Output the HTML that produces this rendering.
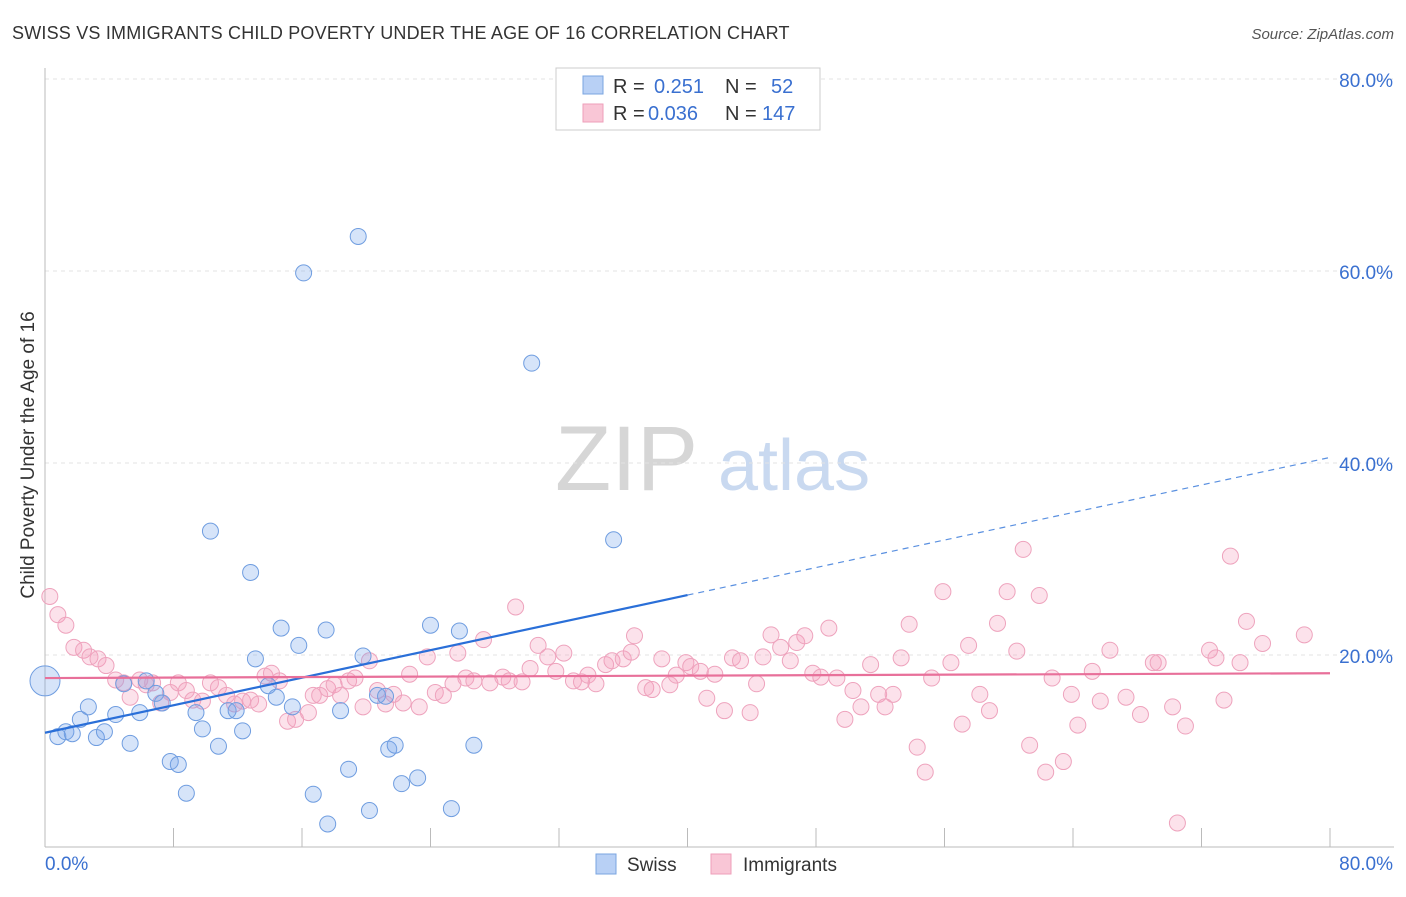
<!DOCTYPE html>
<html><head><meta charset="utf-8"><style>
body{margin:0;background:#fff;font-family:"Liberation Sans",sans-serif;}
svg text{font-family:"Liberation Sans",sans-serif;}
</style></head><body>
<svg id="chart" width="1406" height="892">
<text x="12" y="39" font-size="18" fill="#333" letter-spacing="0.2">SWISS VS IMMIGRANTS CHILD POVERTY UNDER THE AGE OF 16 CORRELATION CHART</text>
<text x="1394" y="39" font-size="15" fill="#555" font-style="italic" text-anchor="end">Source: ZipAtlas.com</text>
<text x="555" y="490" font-size="92" fill="#d6d6d6" font-family="Liberation Serif">ZIP</text>
<text x="718" y="490" font-size="72" fill="#c9d9f0">atlas</text>
<text transform="translate(34,455) rotate(-90)" font-size="19" fill="#333" text-anchor="middle">Child Poverty Under the Age of 16</text>
<g id="grid"></g><g id="marks"></g>
<g>
<rect x="556" y="68" width="264" height="62" fill="#fff" stroke="#ccc"/>
<rect x="583" y="76" width="20" height="18" fill="#b8d0f5" stroke="#7aa5e0"/>
<rect x="583" y="104" width="20" height="18" fill="#f9c6d6" stroke="#ee9fba"/>
<text x="613" y="93" font-size="20" fill="#333">R =</text><text x="654" y="93" font-size="20" fill="#3a70d0">0.251</text>
<text x="725" y="93" font-size="20" fill="#333">N =</text><text x="771" y="93" font-size="20" fill="#3a70d0">52</text>
<text x="613" y="120" font-size="20" fill="#333">R =</text><text x="648" y="120" font-size="20" fill="#3a70d0">0.036</text>
<text x="725" y="120" font-size="20" fill="#333">N =</text><text x="762" y="120" font-size="20" fill="#3a70d0">147</text>
</g>
<g>
<rect x="596" y="854" width="20" height="20" fill="#b8d0f5" stroke="#7aa5e0"/>
<text x="627" y="871" font-size="19" fill="#333">Swiss</text>
<rect x="711" y="854" width="20" height="20" fill="#f9c6d6" stroke="#ee9fba"/>
<text x="743" y="871" font-size="19" fill="#333">Immigrants</text>
</g>
</svg>
<script>
const xTicks=[0,8,16,24,32,40,48,56,64,72,80];
const yTicks=[20,40,60,80];
const swissX=[0,0.8,1.3,1.7,2.2,2.7,3.2,3.7,4.4,4.9,5.3,5.9,6.3,6.9,7.3,7.8,8.3,8.8,9.4,9.8,10.3,10.8,11.4,11.9,12.3,12.8,13.1,13.9,14.4,14.7,15.4,15.8,16.1,16.7,17.5,17.6,18.4,18.9,19.5,19.8,20.2,20.7,21.2,21.4,21.8,22.2,23.2,24.0,25.3,25.8,26.7,30.3,35.4];
const swissY=[17.3,11.5,12,11.8,13.3,14.6,11.4,12,13.8,17,10.8,14,17.3,16,15,8.9,8.6,5.6,14,12.3,32.9,10.5,14.2,14.2,12.1,28.6,19.6,16.8,15.6,22.8,14.6,21,59.8,5.5,22.6,2.4,14.2,8.1,63.6,19.9,3.8,15.8,15.7,10.2,10.6,6.6,7.2,23.1,4,22.5,10.6,50.4,32];
const immX=[0.3,0.8,1.3,1.8,2.4,2.8,3.3,3.8,4.4,4.9,5.3,5.9,6.3,6.7,7.2,7.8,8.3,8.8,9.2,9.8,10.3,10.8,11.3,11.8,12.3,12.8,13.3,13.7,14.1,14.6,15.1,15.6,16.4,16.7,17.1,17.6,18.0,18.4,18.9,19.3,19.8,20.2,20.7,21.2,21.7,22.3,22.7,23.3,23.8,24.3,24.8,25.4,25.7,26.2,26.7,27.3,27.7,28.5,28.9,29.3,29.7,30.2,30.7,31.3,31.8,32.3,32.9,33.4,33.8,34.3,34.9,35.3,36.0,36.5,36.7,37.4,37.8,38.4,38.9,39.3,39.9,40.2,40.8,41.2,41.7,42.3,42.8,43.3,43.9,44.3,44.7,45.2,45.8,46.4,46.8,47.3,47.8,48.3,48.8,49.3,49.8,50.3,50.8,51.4,51.9,52.3,52.8,53.3,53.8,54.3,54.8,55.2,55.9,56.4,57.1,57.5,58.2,58.8,59.3,59.9,60.5,60.9,61.3,61.9,62.3,62.7,63.4,63.9,64.3,65.2,65.7,66.3,67.3,68.2,69.0,69.3,70.2,70.5,71.0,72.5,72.9,73.4,73.8,74.4,74.8,75.8,78.4];
const immY=[26.1,24.2,23.1,20.8,20.5,19.8,19.6,18.9,17.4,17.1,15.6,17.4,16.9,17.1,15,16.1,17.1,16.3,15.3,15.2,17.1,16.6,15.8,14.9,15.2,15.3,14.9,17.8,18.1,17.3,13.1,13.3,14,15.8,15.8,16.5,16.9,15.8,17.3,17.6,14.6,19.4,16.3,14.9,15.9,15,18,14.6,19.8,16.1,15.8,17,20.2,17.6,17.3,21.6,17.1,17.7,17.3,25,17.2,18.6,21,19.8,18.3,20.2,17.3,17.2,17.9,17,19,19.4,19.6,20.3,22,16.6,16.4,19.6,16.9,17.9,19.2,18.8,18.3,15.5,18,14.2,19.7,19.4,14,17,19.8,22.1,20.8,19.4,21.3,22,18.1,17.7,22.8,17.6,13.3,16.3,14.6,19,15.9,14.6,15.9,19.7,23.2,10.4,7.8,17.6,26.6,19.2,12.8,21,15.9,14.2,23.3,26.6,20.4,31,10.6,26.2,7.8,17.6,8.9,15.9,12.7,18.3,15.2,20.5,15.6,13.8,19.2,19.2,14.6,2.5,12.6,20.5,19.7,15.3,30.3,19.2,23.5,21.2,22.1,15.1,27];
const X=v=>45+v*(1285/80), Y=v=>847-v*9.6;
const NS="http://www.w3.org/2000/svg";
function mk(tag,attrs,parent){const e=document.createElementNS(NS,tag);for(const k in attrs)e.setAttribute(k,attrs[k]);parent.appendChild(e);return e;}
const g=document.getElementById('grid'), m=document.getElementById('marks');
yTicks.forEach(t=>{
 const l=mk('line',{x1:45,x2:1394,y1:Y(t),y2:Y(t),stroke:'#e3e3e3','stroke-dasharray':'4,4'},g);
 
 
 const tx=mk('text',{x:1393,y:Y(t)+8,'font-size':19,fill:'#3a70d0','text-anchor':'end'},g);
 tx.textContent=t.toFixed(1)+'%';
 
 
});
const ax=mk('line',{x1:45,x2:1394,y1:847,y2:847,stroke:'#bbb'},g);


const ay=mk('line',{x1:45,x2:45,y1:68,y2:847,stroke:'#bbb'},g);


xTicks.forEach(t=>{
 const l=mk('line',{x1:X(t),x2:X(t),y1:828,y2:847,stroke:'#bbb'},g);
 
 
});
[[0,'0.0%','start',45],[80,'80.0%','end',1393]].forEach(a=>{
 const tx=mk('text',{x:a[3],y:870,'font-size':19,fill:'#3a70d0','text-anchor':a[2]},g);
 tx.textContent=a[1];
 
 
});
immX.forEach((v,i)=>{
 const c=mk('circle',{cx:X(v),cy:Y(immY[i]),r:8,fill:'rgba(244,160,190,0.3)',stroke:'#eea3bd','stroke-width':1},m);
 
 
});
swissX.forEach((v,i)=>{
 const c=mk('circle',{cx:X(v),cy:Y(swissY[i]),r:i==0?15:8,fill:'rgba(120,165,235,0.3)',stroke:'#6f9de0','stroke-width':1},m);
 
 
});
const sA=11.9,sB=0.3585;
const t1=mk('line',{x1:X(0),y1:Y(sA),x2:X(40),y2:Y(sA+sB*40),stroke:'#2a6fd8','stroke-width':2.2},m);


const t2=mk('line',{x1:X(40),y1:Y(sA+sB*40),x2:X(80),y2:Y(sA+sB*80),stroke:'#5a90e0','stroke-width':1.2,'stroke-dasharray':'6,5'},m);


const t3=mk('line',{x1:X(0),y1:Y(17.6),x2:X(80),y2:Y(18.1),stroke:'#e8709a','stroke-width':2.2},m);


</script>
</body></html>
